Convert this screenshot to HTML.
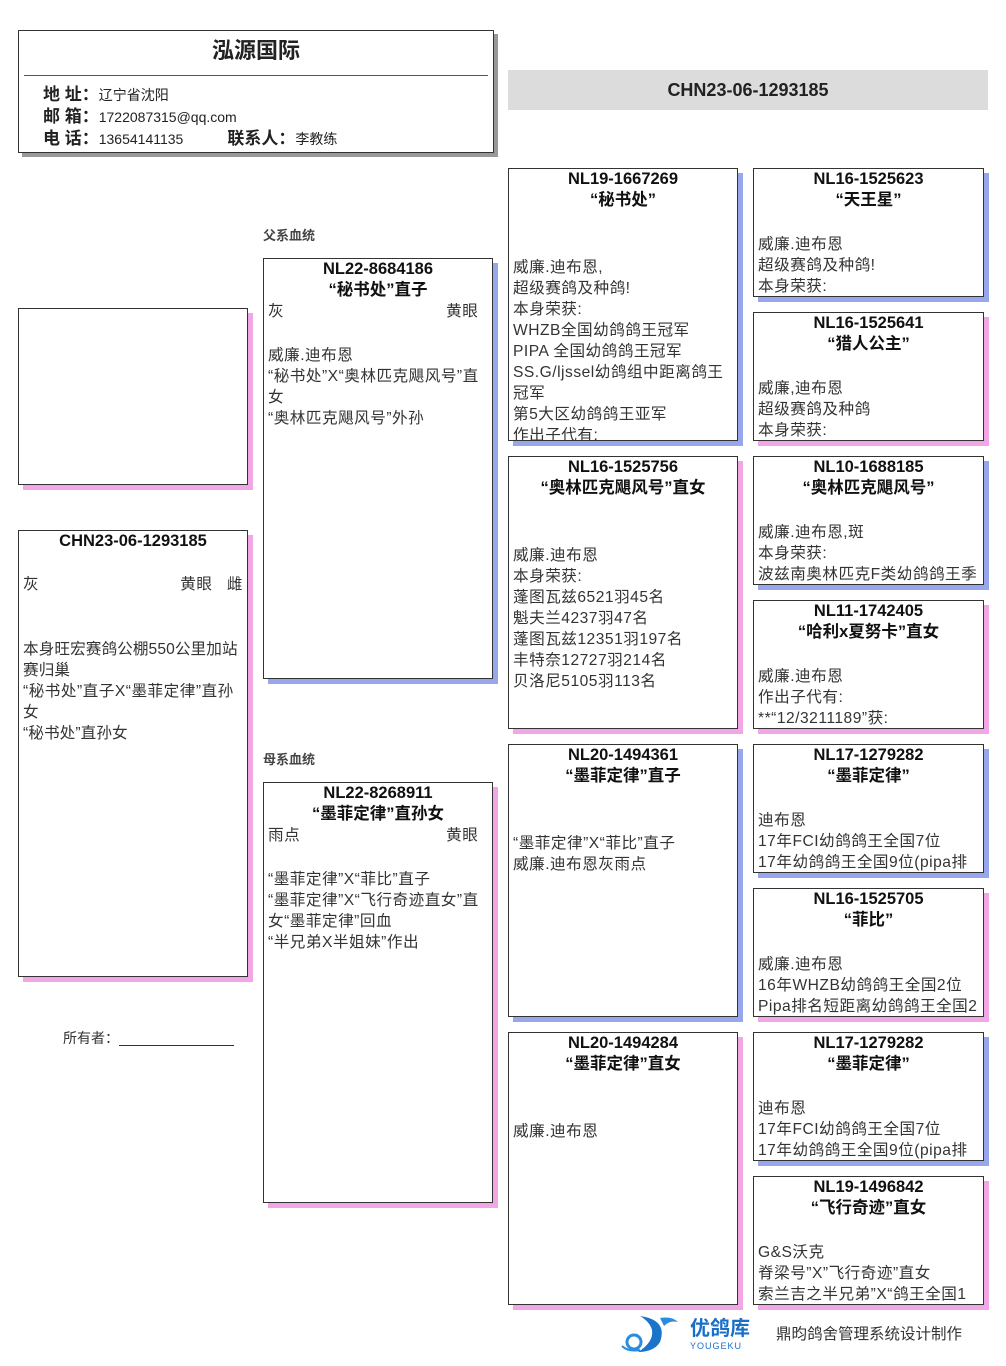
<!DOCTYPE html>
<html><head><meta charset="utf-8"><style>
body{margin:0;width:1006px;height:1366px;background:#fff;position:relative;font-family:"Liberation Sans","Noto Sans CJK SC",sans-serif;overflow:hidden}
.b{position:absolute;border:1px solid #333;background:#fff;box-sizing:border-box;overflow:hidden;font-size:15.6px;line-height:21px;color:#333}
.m{box-shadow:5px 5px 0 #98a6ec}
.f{box-shadow:5px 5px 0 #f3a6e6}
.t{font-weight:bold;text-align:center;font-size:16.5px;color:#111}
.c{padding:0 4px;letter-spacing:0.5px}
.a{position:absolute}
.lb{position:absolute;font-size:13px;font-weight:bold;color:#444}
</style></head><body>

<div class="b" style="left:18px;top:30px;width:476px;height:123px;box-shadow:4px 4px 0 #999;">
<div style="text-align:center;font-size:22px;font-weight:bold;line-height:40px;color:#222;margin-top:0">泓源国际</div>
<div style="position:absolute;left:5px;right:5px;top:44px;border-top:1px solid #555"></div>
<div style="position:absolute;left:24px;top:53px;font-size:14px;line-height:21px;color:#222">
<b style="font-size:17px">地 址：</b>辽宁省沈阳<br>
<b style="font-size:17px">邮 箱：</b>1722087315@qq.com<br>
<b style="font-size:17px">电 话：</b>13654141135<span style="display:inline-block;width:44px"></span><b style="font-size:17px">联系人：</b>李教练</div>
</div>

<div style="position:absolute;left:508px;top:70px;width:480px;height:40px;background:#dcdcdc;text-align:center;line-height:40px;font-weight:bold;font-size:18px;color:#222">CHN23-06-1293185</div>

<div class="b f" style="left:18px;top:308px;width:230px;height:177px"></div>

<div class="b f" style="left:18px;top:530px;width:230px;height:447px">
<div class="t" style="margin-top:0">CHN23-06-1293185</div>
<div class="c" style="margin-top:22px;display:flex;justify-content:space-between"><span>灰</span><span>黄眼&nbsp;&nbsp;&nbsp;雌</span></div>
<div class="c" style="margin-top:44px;letter-spacing:0.1px">本身旺宏赛鸽公棚550公里加站赛归巢<br><span style="letter-spacing:0.5px">“秘书处”直子X“墨菲定律”直孙女</span><br>“秘书处”直孙女</div>
</div>

<div class="a" style="left:63px;top:1028px;font-size:14px;color:#333">所有者：<span style="display:inline-block;width:115px;border-bottom:1px solid #333;vertical-align:-3px"></span></div>

<div class="lb" style="left:263px;top:225px">父系血统</div>
<div class="b m" style="left:263px;top:258px;width:230px;height:421px">
<div class="t">NL22-8684186<br>“秘书处”直子</div>
<div class="c" style="display:flex;justify-content:space-between"><span>灰</span><span>黄眼&nbsp;&nbsp;</span></div>
<div class="c" style="margin-top:23px">威廉.迪布恩<br>“秘书处”X“奥林匹克飓风号”直女<br>“奥林匹克飓风号”外孙</div>
</div>

<div class="lb" style="left:263px;top:749px">母系血统</div>
<div class="b f" style="left:263px;top:782px;width:230px;height:421px">
<div class="t">NL22-8268911<br>“墨菲定律”直孙女</div>
<div class="c" style="display:flex;justify-content:space-between"><span>雨点</span><span>黄眼&nbsp;&nbsp;</span></div>
<div class="c" style="margin-top:23px">“墨菲定律”X“菲比”直子<br>“墨菲定律”X“飞行奇迹直女”直女“墨菲定律”回血<br>“半兄弟X半姐妹”作出</div>
</div>

<div class="b m" style="left:508px;top:168px;width:230px;height:273px">
<div class="t">NL19-1667269<br>“秘书处”</div>
<div class="c" style="margin-top:46px">威廉.迪布恩,<br>超级赛鸽及种鸽!<br>本身荣获:<br>WHZB全国幼鸽鸽王冠军<br>PIPA 全国幼鸽鸽王冠军<br>SS.G/ljssel幼鸽组中距离鸽王冠军<br>第5大区幼鸽鸽王亚军<br>作出子代有:</div>
</div>
<div class="b f" style="left:508px;top:456px;width:230px;height:273px">
<div class="t">NL16-1525756<br>“奥林匹克飓风号”直女</div>
<div class="c" style="margin-top:46px">威廉.迪布恩<br>本身荣获:<br>蓬图瓦兹6521羽45名<br>魁夫兰4237羽47名<br>蓬图瓦兹12351羽197名<br>丰特奈12727羽214名<br>贝洛尼5105羽113名</div>
</div>
<div class="b m" style="left:508px;top:744px;width:230px;height:273px">
<div class="t">NL20-1494361<br>“墨菲定律”直子</div>
<div class="c" style="margin-top:46px">“墨菲定律”X“菲比”直子<br>威廉.迪布恩灰雨点</div>
</div>
<div class="b f" style="left:508px;top:1032px;width:230px;height:273px">
<div class="t">NL20-1494284<br>“墨菲定律”直女</div>
<div class="c" style="margin-top:46px">威廉.迪布恩</div>
</div>

<div class="b m" style="left:753px;top:168px;width:231px;height:129px"><div class="t">NL16-1525623<br>“天王星”</div><div class="c" style="margin-top:23px;white-space:nowrap">威廉.迪布恩<br>超级赛鸽及种鸽!<br>本身荣获:</div></div>
<div class="b f" style="left:753px;top:312px;width:231px;height:129px"><div class="t">NL16-1525641<br>“猎人公主”</div><div class="c" style="margin-top:23px;white-space:nowrap">威廉,迪布恩<br>超级赛鸽及种鸽<br>本身荣获:</div></div>
<div class="b m" style="left:753px;top:456px;width:231px;height:129px"><div class="t">NL10-1688185<br>“奥林匹克飓风号”</div><div class="c" style="margin-top:23px;white-space:nowrap">威廉.迪布恩,斑<br>本身荣获:<br>波兹南奥林匹克F类幼鸽鸽王季</div></div>
<div class="b f" style="left:753px;top:600px;width:231px;height:129px"><div class="t">NL11-1742405<br>“哈利x夏努卡”直女</div><div class="c" style="margin-top:23px;white-space:nowrap">威廉.迪布恩<br>作出子代有:<br>**“12/3211189”获:</div></div>
<div class="b m" style="left:753px;top:744px;width:231px;height:129px"><div class="t">NL17-1279282<br>“墨菲定律”</div><div class="c" style="margin-top:23px;white-space:nowrap">迪布恩<br>17年FCI幼鸽鸽王全国7位<br>17年幼鸽鸽王全国9位(pipa排</div></div>
<div class="b f" style="left:753px;top:888px;width:231px;height:129px"><div class="t">NL16-1525705<br>“菲比”</div><div class="c" style="margin-top:23px;white-space:nowrap">威廉.迪布恩<br>16年WHZB幼鸽鸽王全国2位<br>Pipa排名短距离幼鸽鸽王全国2</div></div>
<div class="b m" style="left:753px;top:1032px;width:231px;height:129px"><div class="t">NL17-1279282<br>“墨菲定律”</div><div class="c" style="margin-top:23px;white-space:nowrap">迪布恩<br>17年FCI幼鸽鸽王全国7位<br>17年幼鸽鸽王全国9位(pipa排</div></div>
<div class="b f" style="left:753px;top:1176px;width:231px;height:129px"><div class="t">NL19-1496842<br>“飞行奇迹”直女</div><div class="c" style="margin-top:23px;white-space:nowrap">G&amp;S沃克<br>脊梁号”X”飞行奇迹”直女<br>索兰吉之半兄弟”X“鸽王全国1</div></div>

<svg class="a" style="left:620px;top:1312px" width="70" height="42" viewBox="0 0 70 42">
<path d="M20 4 Q48 8 40 30 Q34 40 18 40 Q34 30 32 18 Q30 10 20 4Z" fill="#1a74c9"/>
<path d="M40 6 Q52 4 58 10 Q50 8 44 14Z" fill="#2a8de0"/>
<circle cx="14" cy="30" r="7" fill="none" stroke="#2a8de0" stroke-width="3"/>
<path d="M2 34 Q8 40 20 38" stroke="#2a8de0" stroke-width="2" fill="none"/>
</svg>
<div class="a" style="left:690px;top:1318px;font-size:20px;font-weight:bold;color:#1a6fc6;line-height:22px">优鸽库</div>
<div class="a" style="left:690px;top:1341px;font-size:9px;color:#1a6fc6;letter-spacing:1px">YOUGEKU</div>
<div class="a" style="left:776px;top:1322px;font-size:15.5px;color:#333">鼎昀鸽舍管理系统设计制作</div>
</body></html>
